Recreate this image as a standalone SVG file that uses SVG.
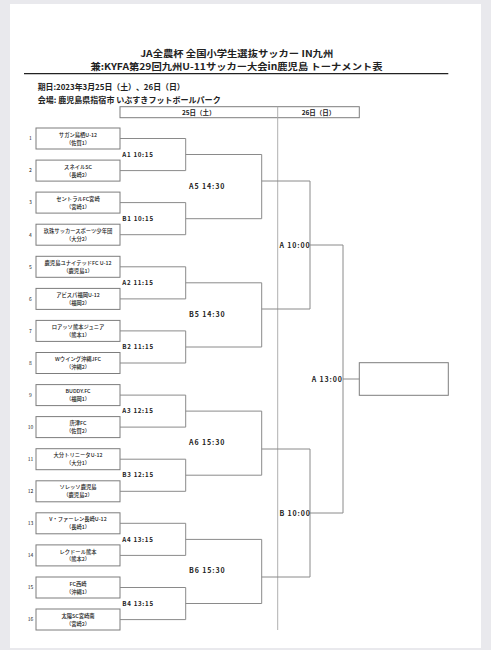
<svg xmlns="http://www.w3.org/2000/svg" width="491" height="650" viewBox="0 0 491 650">
<style>
text{font-family:"Noto Sans CJK JP","Noto Sans",sans-serif;fill:#222}
.title{font-size:9.1px;font-weight:bold;text-anchor:middle}
.info{font-size:8px;font-weight:bold}
.hdr{font-size:6.5px;font-weight:bold;text-anchor:middle}
.box{fill:#fff;stroke:#7d7d7d;stroke-width:1}
.tn{font-size:5.3px;text-anchor:middle;font-weight:500}
.num{font-size:5px;text-anchor:middle}
.ln{fill:none;stroke:#8a8a8a;stroke-width:1}
.m1{font-size:6.2px;font-weight:bold;letter-spacing:0.7px}
.m2{font-size:7px;font-weight:bold;letter-spacing:0.9px}
</style>
<rect x="0" y="0" width="491" height="650" fill="#e9e9ed"/>
<rect x="10" y="4" width="471" height="644" fill="#fff"/>
<g id="header">
<text class="title" x="236.7" y="56.6" textLength="193" lengthAdjust="spacingAndGlyphs">JA全農杯 全国小学生選抜サッカー IN九州</text>
<text class="title" x="236.5" y="70.1" textLength="292" lengthAdjust="spacingAndGlyphs">兼:KYFA第29回九州U-11サッカー大会in鹿児島 トーナメント表</text>
<line x1="24" y1="73.6" x2="448.3" y2="73.6" stroke="#222" stroke-width="1.3"/>
<text class="info" x="37.7" y="90.4" textLength="147" lengthAdjust="spacingAndGlyphs">期日:2023年3月25日（土）、26日（日）</text>
<text class="info" x="37.7" y="102.7" textLength="183" lengthAdjust="spacingAndGlyphs">会場: 鹿児島県指宿市 いぶすきフットボールパーク</text>
<rect x="120" y="106.7" width="239.3" height="11" fill="none" stroke="#7d7d7d" stroke-width="1"/>
<text class="hdr" x="198.8" y="114.6">25日（土）</text>
<text class="hdr" x="318.5" y="114.6">26日（日）</text>
<line x1="277.7" y1="106.7" x2="277.7" y2="630" stroke="#a8a8a8" stroke-width="0.9"/>
</g>
<g id="team1"><text class="num" x="30.5" y="140.3">1</text><rect class="box" x="36" y="128" width="84" height="21"/><text class="tn" x="78" y="136.6">サガン鳥栖U-12</text><text class="tn" x="78" y="144.5">（佐賀1）</text></g>
<g id="team2"><text class="num" x="30.5" y="172.4">2</text><rect class="box" x="36" y="160.1" width="84" height="21"/><text class="tn" x="78" y="168.7">スネイルSC</text><text class="tn" x="78" y="176.6">（長崎2）</text></g>
<g id="team3"><text class="num" x="30.5" y="204.4">3</text><rect class="box" x="36" y="192.1" width="84" height="21"/><text class="tn" x="78" y="200.7">セントラルFC宮崎</text><text class="tn" x="78" y="208.6">（宮崎1）</text></g>
<g id="team4"><text class="num" x="30.5" y="236.5">4</text><rect class="box" x="36" y="224.2" width="84" height="21"/><text class="tn" x="78" y="232.8">玖珠サッカースポーツ少年団</text><text class="tn" x="78" y="240.7">（大分2）</text></g>
<g id="team5"><text class="num" x="30.5" y="268.6">5</text><rect class="box" x="36" y="256.3" width="84" height="21"/><text class="tn" x="78" y="264.9">鹿児島ユナイテッドFC U-12</text><text class="tn" x="78" y="272.8">（鹿児島1）</text></g>
<g id="team6"><text class="num" x="30.5" y="300.7">6</text><rect class="box" x="36" y="288.4" width="84" height="21"/><text class="tn" x="78" y="297">アビスパ福岡U-12</text><text class="tn" x="78" y="304.9">（福岡2）</text></g>
<g id="team7"><text class="num" x="30.5" y="332.7">7</text><rect class="box" x="36" y="320.4" width="84" height="21"/><text class="tn" x="78" y="329">ロアッソ熊本ジュニア</text><text class="tn" x="78" y="336.9">（熊本1）</text></g>
<g id="team8"><text class="num" x="30.5" y="364.8">8</text><rect class="box" x="36" y="352.5" width="84" height="21"/><text class="tn" x="78" y="361.1">Wウイング沖縄JFC</text><text class="tn" x="78" y="369">（沖縄2）</text></g>
<g id="team9"><text class="num" x="30.5" y="396.9">9</text><rect class="box" x="36" y="384.6" width="84" height="21"/><text class="tn" x="78" y="393.2">BUDDY.FC</text><text class="tn" x="78" y="401.1">（福岡1）</text></g>
<g id="team10"><text class="num" x="30.5" y="428.9">10</text><rect class="box" x="36" y="416.6" width="84" height="21"/><text class="tn" x="78" y="425.2">唐津FC</text><text class="tn" x="78" y="433.1">（佐賀2）</text></g>
<g id="team11"><text class="num" x="30.5" y="461">11</text><rect class="box" x="36" y="448.7" width="84" height="21"/><text class="tn" x="78" y="457.3">大分トリニータU-12</text><text class="tn" x="78" y="465.2">（大分1）</text></g>
<g id="team12"><text class="num" x="30.5" y="493.1">12</text><rect class="box" x="36" y="480.8" width="84" height="21"/><text class="tn" x="78" y="489.4">ソレッソ鹿児島</text><text class="tn" x="78" y="497.3">（鹿児島2）</text></g>
<g id="team13"><text class="num" x="30.5" y="525.1">13</text><rect class="box" x="36" y="512.8" width="84" height="21"/><text class="tn" x="78" y="521.4">V・ファーレン長崎U-12</text><text class="tn" x="78" y="529.3">（長崎1）</text></g>
<g id="team14"><text class="num" x="30.5" y="557.2">14</text><rect class="box" x="36" y="544.9" width="84" height="21"/><text class="tn" x="78" y="553.5">レクドール熊本</text><text class="tn" x="78" y="561.4">（熊本2）</text></g>
<g id="team15"><text class="num" x="30.5" y="589.3">15</text><rect class="box" x="36" y="577" width="84" height="21"/><text class="tn" x="78" y="585.6">FC西崎</text><text class="tn" x="78" y="593.5">（沖縄1）</text></g>
<g id="team16"><text class="num" x="30.5" y="621.3">16</text><rect class="box" x="36" y="609" width="84" height="21"/><text class="tn" x="78" y="617.6">太陽SC宮崎南</text><text class="tn" x="78" y="625.5">（宮崎2）</text></g>
<g id="champion"><rect class="box" x="359.3" y="362.7" width="89" height="32.6"/></g>
<g id="connectors">
<path class="ln" d="M120,138.5H185.7V170.6H120M185.7,154.5H261.7"/>
<path class="ln" d="M120,202.6H185.7V234.7H120M185.7,218.7H261.7"/>
<path class="ln" d="M120,266.8H185.7V298.9H120M185.7,282.8H261.7"/>
<path class="ln" d="M120,330.9H185.7V363H120M185.7,347H261.7"/>
<path class="ln" d="M120,395.1H185.7V427.1H120M185.7,411.1H261.7"/>
<path class="ln" d="M120,459.2H185.7V491.3H120M185.7,475.2H261.7"/>
<path class="ln" d="M120,523.3H185.7V555.4H120M185.7,539.4H261.7"/>
<path class="ln" d="M120,587.5H185.7V619.6H120M185.7,603.5H261.7"/>
<path class="ln" d="M261.7,154.5V218.7M261.7,181H310"/>
<path class="ln" d="M261.7,282.8V347M261.7,309H310"/>
<path class="ln" d="M261.7,411.1V475.2M261.7,449H310"/>
<path class="ln" d="M261.7,539.4V603.5M261.7,577H310"/>
<path class="ln" d="M310,181V309M310,245H343"/>
<path class="ln" d="M310,449V577M310,513H343"/>
<path class="ln" d="M343,245V513M343,379H359.3"/>
</g>
<g id="labels">
<text class="m1" x="122.3" y="156.7">A1 10:15</text>
<text class="m1" x="122.3" y="220.9">B1 10:15</text>
<text class="m1" x="122.3" y="285">A2 11:15</text>
<text class="m1" x="122.3" y="349.2">B2 11:15</text>
<text class="m1" x="122.3" y="413.3">A3 12:15</text>
<text class="m1" x="122.3" y="477.4">B3 12:15</text>
<text class="m1" x="122.3" y="541.6">A4 13:15</text>
<text class="m1" x="122.3" y="605.7">B4 13:15</text>
<text class="m2" x="189" y="188.6">A5 14:30</text>
<text class="m2" x="189" y="316.6">B5 14:30</text>
<text class="m2" x="189" y="445.2">A6 15:30</text>
<text class="m2" x="189" y="573.2">B6 15:30</text>
<text class="m2" x="279.4" y="247.5">A 10:00</text>
<text class="m2" x="279.4" y="515.5">B 10:00</text>
<text class="m2" x="311.7" y="381.5">A 13:00</text>
</g>
</svg>
